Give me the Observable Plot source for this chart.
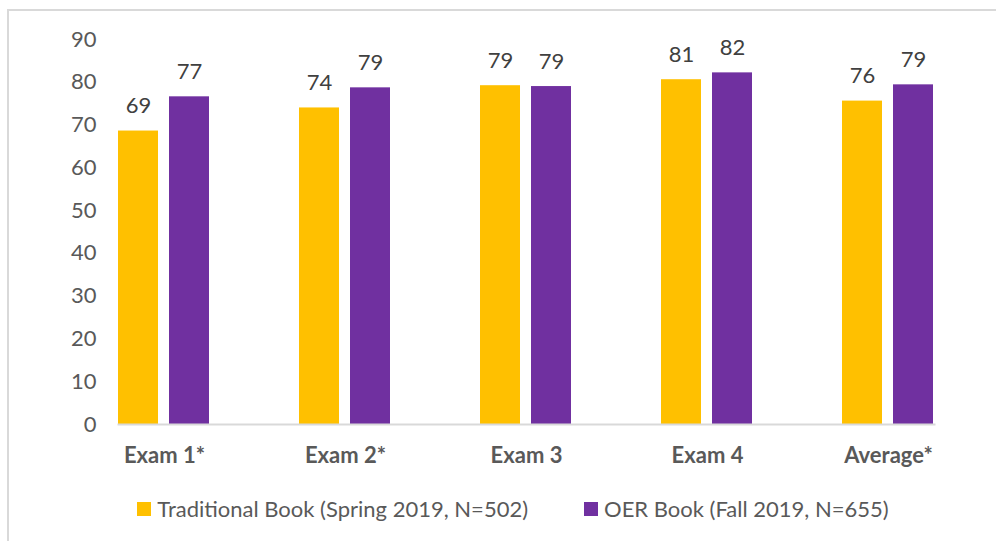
<!DOCTYPE html>
<html>
<head>
<meta charset="utf-8">
<script src="https://cdn.jsdelivr.net/npm/d3@7"></script>
<script src="https://cdn.jsdelivr.net/npm/@observablehq/plot@0.6"></script>
<style>
  html, body { margin: 0; padding: 0; background: #fff; }
  #wrap { position: relative; width: 996px; height: 541px; overflow: hidden; font-family: Lato, "Open Sans", sans-serif; }
  #border { position: absolute; left: 7px; top: 9px; right: -5px; bottom: -5px; border-top: 2px solid #d9d9d9; border-left: 2px solid #d9d9d9; }
  #chart { position: absolute; left: 0; top: 0; }
  #legend { position: absolute; left: 0; width: 996px; top: 495px; display: flex; justify-content: center; font-size: 22px; color: #595959; padding-left: 30px; box-sizing: border-box; }
  .item { display: flex; align-items: center; margin: 0 28px; }
  .sw { width: 14px; height: 14px; margin-right: 6px; }
</style>
</head>
<body>
<div id="wrap">
  <div id="border"></div>
  <div id="chart"></div>
  <div id="legend"></div>
</div>
<script>
const exams = ["Exam 1*", "Exam 2*", "Exam 3", "Exam 4", "Average*"];
const series = ["Traditional Book (Spring 2019, N=502)", "OER Book (Fall 2019, N=655)"];
const traditional = [68.6, 74.0, 79.2, 80.6, 75.6];
const oer = [76.6, 78.7, 79.0, 82.2, 79.4];
const yTicks = [0, 10, 20, 30, 40, 50, 60, 70, 80, 90];
const colors = ["#FFC000", "#7030A0"];

const data = [];
exams.forEach((e, i) => {
  data.push({exam: e, series: series[0], value: traditional[i]});
  data.push({exam: e, series: series[1], value: oer[i]});
});

const chart = Plot.plot({
  width: 996,
  height: 480,
  marginLeft: 72,
  marginRight: 16,
  marginTop: 39,
  marginBottom: 56,
  style: {fontFamily: "Lato, 'Open Sans', sans-serif", fontSize: "22px", color: "#595959", background: "transparent"},
  fx: {domain: exams, paddingInner: 0.493, paddingOuter: 0.2465, label: null},
  x: {domain: series, paddingInner: 0.2136, paddingOuter: 0, axis: null},
  y: {domain: [0, 90], label: null},
  color: {domain: series, range: colors},
  marks: [
    Plot.axisY({ticks: yTicks, tickSize: 0, tickPadding: 22, label: null, fill: "#595959", fontSize: 22}),
    Plot.axisFx({anchor: "bottom", tickSize: 0, tickPadding: 23, label: null, fontWeight: "bold", fill: "#595959", fontSize: 22}),
    Plot.barY(data, {fx: "exam", x: "series", y: "value", fill: "series"}),
    Plot.frame({anchor: "bottom", facet: "super", stroke: "#d9d9d9", strokeWidth: 2}),
    Plot.text(data, {fx: "exam", x: "series", y: "value", text: d => d3.format(".0f")(d.value), dy: -25, lineAnchor: "middle", fill: "#404040", fontSize: 22})
  ]
});
document.getElementById("chart").appendChild(chart);

const legend = document.getElementById("legend");
series.forEach((s, i) => {
  const item = document.createElement("div");
  item.className = "item";
  const sw = document.createElement("div");
  sw.className = "sw";
  sw.style.background = colors[i];
  const t = document.createElement("span");
  t.textContent = s;
  item.appendChild(sw);
  item.appendChild(t);
  legend.appendChild(item);
});
</script>
</body>
</html>
